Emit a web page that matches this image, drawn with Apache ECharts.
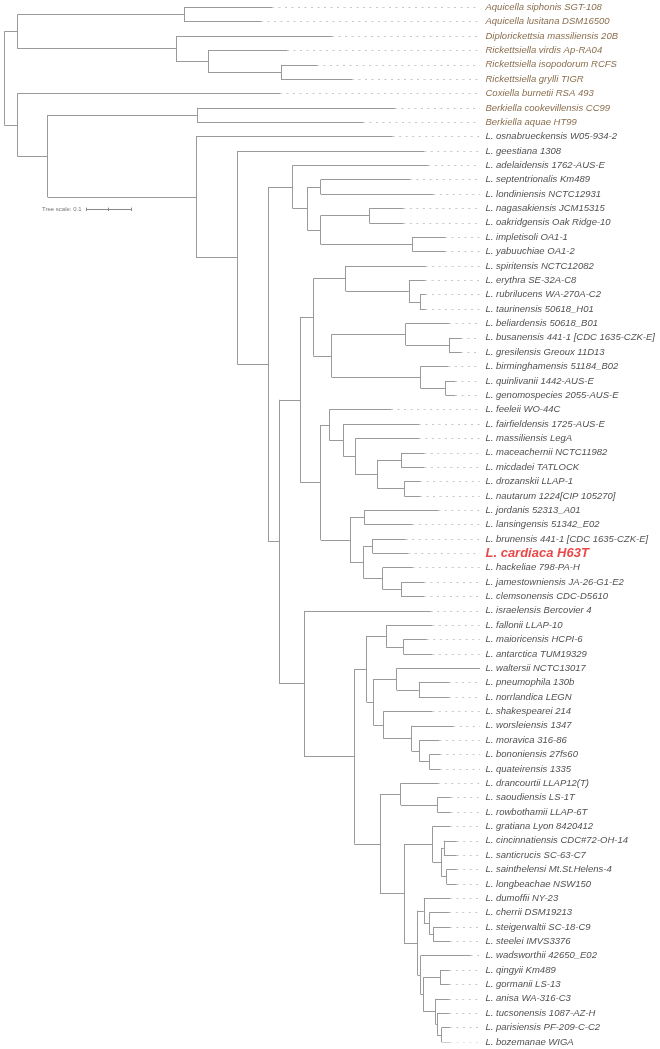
<!DOCTYPE html>
<html>
<head>
<meta charset="utf-8">
<script src="https://cdn.jsdelivr.net/npm/echarts/dist/echarts.min.js"></script>
<style>
html,body{margin:0;padding:0;background:#ffffff;}
#chart{width:660px;height:1049px;}
</style>
</head>
<body>
<div id="chart"></div>
<script>
// ---------------- DATA ----------------
// Leaf labels, top to bottom (leaf index = row)
const leafNames = [
  "Aquicella siphonis SGT-108",
  "Aquicella lusitana DSM16500",
  "Diplorickettsia massiliensis 20B",
  "Rickettsiella virdis Ap-RA04",
  "Rickettsiella isopodorum RCFS",
  "Rickettsiella grylli TIGR",
  "Coxiella burnetii RSA 493",
  "Berkiella cookevillensis CC99",
  "Berkiella aquae HT99",
  "L. osnabrueckensis W05-934-2",
  "L. geestiana 1308",
  "L. adelaidensis 1762-AUS-E",
  "L. septentrionalis Km489",
  "L. londiniensis NCTC12931",
  "L. nagasakiensis JCM15315",
  "L. oakridgensis Oak Ridge-10",
  "L. impletisoli OA1-1",
  "L. yabuuchiae OA1-2",
  "L. spiritensis NCTC12082",
  "L. erythra SE-32A-C8",
  "L. rubrilucens WA-270A-C2",
  "L. taurinensis 50618_H01",
  "L. beliardensis 50618_B01",
  "L. busanensis 441-1 [CDC 1635-CZK-E]",
  "L. gresilensis Greoux 11D13",
  "L. birminghamensis 51184_B02",
  "L. quinlivanii 1442-AUS-E",
  "L. genomospecies 2055-AUS-E",
  "L. feeleii WO-44C",
  "L. fairfieldensis 1725-AUS-E",
  "L. massiliensis LegA",
  "L. maceachernii NCTC11982",
  "L. micdadei TATLOCK",
  "L. drozanskii LLAP-1",
  "L. nautarum 1224[CIP 105270]",
  "L. jordanis 52313_A01",
  "L. lansingensis 51342_E02",
  "L. brunensis 441-1 [CDC 1635-CZK-E]",
  "L. cardiaca H63T",
  "L. hackeliae 798-PA-H",
  "L. jamestowniensis JA-26-G1-E2",
  "L. clemsonensis CDC-D5610",
  "L. israelensis Bercovier 4",
  "L. fallonii LLAP-10",
  "L. maioricensis HCPI-6",
  "L. antarctica TUM19329",
  "L. waltersii NCTC13017",
  "L. pneumophila 130b",
  "L. norrlandica LEGN",
  "L. shakespearei 214",
  "L. worsleiensis 1347",
  "L. moravica 316-86",
  "L. bononiensis 27fs60",
  "L. quateirensis 1335",
  "L. drancourtii LLAP12(T)",
  "L. saoudiensis LS-1T",
  "L. rowbothamii LLAP-6T",
  "L. gratiana Lyon 8420412",
  "L. cincinnatiensis CDC#72-OH-14",
  "L. santicrucis SC-63-C7",
  "L. sainthelensi Mt.St.Helens-4",
  "L. longbeachae NSW150",
  "L. dumoffii NY-23",
  "L. cherrii DSM19213",
  "L. steigerwaltii SC-18-C9",
  "L. steelei IMVS3376",
  "L. wadsworthii 42650_E02",
  "L. qingyii Km489",
  "L. gormanii LS-13",
  "L. anisa WA-316-C3",
  "L. tucsonensis 1087-AZ-H",
  "L. parisiensis PF-209-C-C2",
  "L. bozemanae WIGA"
];
// non-Legionella outgroup leaves and the highlighted new strain
const outgroupLeaves = [0, 1, 2, 3, 4, 5, 6, 7, 8];
const highlightLeaves = [38];

// Tree topology in Newick form; leaf labels are leaf indices,
// the value after ':' is the distance of the node from the root (substitutions / site).
const cladeAquicellaRickettsiella = "((0:0.5949,1:0.5704):0.3993,(2:0.7282,(3:0.6282,(4:0.6949,5:0.7727):0.6149):0.4527):0.3816):0.0289";
const cladeAdelaidensis = "(11:0.9422,((12:0.9016,13:0.9533):0.7031,((14:0.8867,15:0.8867):0.8111,(16:0.9793,17:0.9793):0.9071):0.7031):0.6733):0.6409";
const cladeSpiritensis = "((18:0.9364,(19:0.9349,(20:0.9360,21:0.9360):0.9238):0.8989):0.7587,((22:0.9882,(23:1.0149,24:1.0149):0.9882):0.8920,(25:0.9867,(26:1.0016,27:1.0016):0.9809):0.9249):0.7276):0.6867";
const cladeMicdadei = "(28:0.8593,(29:0.9216,(30:0.9216,((31:0.9333,32:0.9333):0.8816,(33:0.9238,34:0.9238):0.8887):0.8289):0.7800):0.7533):0.7222";
const cladeCardiaca = "((35:0.9644,36:0.9067):0.8000,((37:0.8920,38:0.8978):0.8187,(39:0.9076,(40:0.9327,41:0.9327):0.8816):0.8409):0.7987):0.7682";
const cladePneumophila = "((43:0.9511,(44:0.9387,45:0.9511):0.8867):0.8482,((46:1.0571,(47:0.9882,48:0.9882):0.9211):0.8720,(49:0.9511,(50:0.9978,(51:0.9667,(52:0.9682,53:0.9682):0.9444):0.9222):0.9053):0.8422):0.8200):0.8053";
const cladeLongbeachae = "((54:0.9644,(55:0.9920,56:0.9920):0.9622):0.8809,((57:0.9904,((58:1.0053,59:1.0053):0.9767,(60:1.0053,61:1.0053):0.9831):0.9720):0.9520,((62:0.9904,(63:0.9889,(64:0.9904,65:0.9904):0.9527):0.9444):0.9322,(66:1.0364,((67:0.9889,68:0.9889):0.9682,(69:0.9889,(70:0.9889,(71:0.9904,72:0.9904):0.9720):0.9616):0.9582):0.9311):0.9253):0.9182):0.8882):0.8349";

const treeNewick =
  "(" + cladeAquicellaRickettsiella + "," +
  "(6:0.6127,((7:0.8682,8:0.7971):0.4282," +
    "(9:0.8631,(10:0.9333,(" + cladeAdelaidensis + "," +
      "((" + cladeSpiritensis + ",(" + cladeMicdadei + "," + cladeCardiaca + "):0.7031):0.6578," +
       "(42:0.9476,(" + cladePneumophila + "," + cladeLongbeachae + "):0.7778):0.6660):0.6111" +
    "):0.5871):0.5178):0.4260" +
  "):0.0964):0.0289" +
  "):0";

const scaleBarLength = 0.1;
const scaleBarText = "Tree scale: 0.1";

// ---------------- LAYOUT CONSTANTS ----------------
const PX_PER_UNIT = 450;     // 0.1 substitutions = 45 px
const ROW_PX = 14.37;
const LEFT = 4.3, TOP = 7.3;
const X_MAX = 1.3;
const LEADER_END = 1.0571;   // dotted leaders end here (tree units)
const LABEL_AT = 1.0682;     // label column (tree units)
const SCALE_AT = [0.1816, 14.06];

// ---------------- PARSE & LAYOUT ----------------
function parseNewick(s) {
  let i = 0;
  function node() {
    const n = { children: [] };
    if (s[i] === '(') {
      i++;
      n.children.push(node());
      while (s[i] === ',') { i++; n.children.push(node()); }
      i++;
    } else {
      let t = '';
      while (i < s.length && /[0-9]/.test(s[i])) t += s[i++];
      n.leaf = parseInt(t, 10);
    }
    if (s[i] === ':') {
      i++;
      let t = '';
      while (i < s.length && /[0-9.eE+\-]/.test(s[i])) t += s[i++];
      n.depth = parseFloat(t);
    }
    return n;
  }
  return node();
}
const root = parseNewick(treeNewick);

function layout(n) {
  if (n.children.length === 0) { n.y = n.leaf; return; }
  n.children.forEach(layout);
  n.y = (n.children[0].y + n.children[n.children.length - 1].y) / 2;
}
layout(root);

const branchSegs = [];
const leaderSegs = [];
function collect(n) {
  if (n.children.length === 0) {
    if (n.depth < LEADER_END - 0.002) {
      leaderSegs.push({ coords: [[n.depth, n.y], [LEADER_END, n.y]] });
    }
    return;
  }
  const ys = n.children.map(c => c.y);
  branchSegs.push({ coords: [[n.depth, Math.min.apply(null, ys)], [n.depth, Math.max.apply(null, ys)]] });
  n.children.forEach(c => {
    branchSegs.push({ coords: [[n.depth, c.y], [c.depth, c.y]] });
    collect(c);
  });
}
collect(root);

const FONT = '"Liberation Sans", Arial, Helvetica, sans-serif';
const labelData = leafNames.map((name, i) => {
  const isOut = outgroupLeaves.indexOf(i) >= 0;
  const isNew = highlightLeaves.indexOf(i) >= 0;
  return {
    value: [LABEL_AT, i],
    name: name,
    label: {
      color: isNew ? '#e31a1c' : (isOut ? '#6b4a20' : '#232323'),
      fontSize: isNew ? 13 : 9.5,
      fontWeight: isNew ? 'bold' : 'normal'
    }
  };
});

// scale bar
const sx = SCALE_AT[0], sy = SCALE_AT[1];
const scaleSegs = [
  { coords: [[sx, sy], [sx + scaleBarLength, sy]] },
  { coords: [[sx, sy - 0.12], [sx, sy + 0.12]] },
  { coords: [[sx + scaleBarLength / 2, sy - 0.12], [sx + scaleBarLength / 2, sy + 0.12]] },
  { coords: [[sx + scaleBarLength, sy - 0.12], [sx + scaleBarLength, sy + 0.12]] }
];

const chart = echarts.init(document.getElementById('chart'), null, { renderer: 'canvas' });
const gridW = X_MAX * PX_PER_UNIT;
const gridH = (leafNames.length - 1) * ROW_PX;
chart.setOption({
  animation: false,
  backgroundColor: '#ffffff',
  grid: { left: LEFT, top: TOP, width: gridW, height: gridH, containLabel: false },
  xAxis: { type: 'value', min: 0, max: X_MAX, show: false },
  yAxis: { type: 'value', min: 0, max: leafNames.length - 1, inverse: true, show: false },
  series: [
    {
      type: 'lines', coordinateSystem: 'cartesian2d', silent: true,
      data: leaderSegs,
      lineStyle: { color: '#c8c8c8', width: 1, type: [2, 4.5], opacity: 1 }
    },
    {
      type: 'lines', coordinateSystem: 'cartesian2d', silent: true,
      data: branchSegs,
      lineStyle: { color: '#9a9a9a', width: 1, type: 'solid', opacity: 1 }
    },
    {
      type: 'lines', coordinateSystem: 'cartesian2d', silent: true,
      data: scaleSegs,
      lineStyle: { color: '#8a8a8a', width: 1, opacity: 1 }
    },
    {
      type: 'scatter', silent: true, symbolSize: 1,
      itemStyle: { color: 'transparent' },
      data: [{ value: [sx, sy], name: scaleBarText }],
      label: {
        show: true, position: 'left', distance: 4, formatter: '{b}',
        color: '#555555', fontSize: 6, fontFamily: FONT
      }
    },
    {
      type: 'scatter', silent: true, symbolSize: 1,
      itemStyle: { color: 'transparent' },
      data: labelData,
      label: {
        show: true, position: 'right', distance: 0, formatter: '{b}',
        fontStyle: 'italic', fontFamily: FONT, verticalAlign: 'middle'
      },
      labelLayout: { hideOverlap: false }
    }
  ]
});
</script>
</body>
</html>
